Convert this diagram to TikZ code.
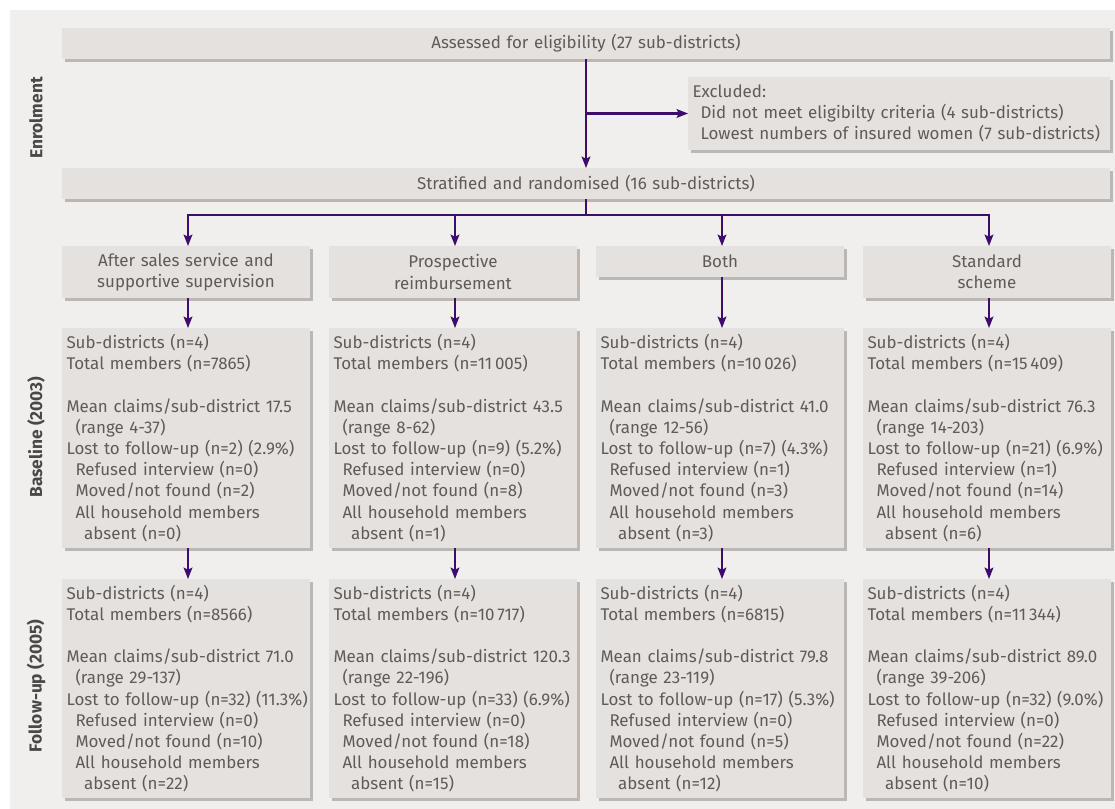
\documentclass[tikz,border=0pt]{standalone}
\usepackage{fontspec}
\setmainfont[Numbers=Proportional]{Fira Sans}
\usetikzlibrary{arrows.meta,shadows}
\definecolor{bgc}{HTML}{F0EFED}
\definecolor{boxc}{HTML}{E5E1DE}
\definecolor{shc}{HTML}{BDB7B4}
\definecolor{txc}{HTML}{5F5B59}
\definecolor{arc}{HTML}{3E0C6E}
\definecolor{lbc}{HTML}{4B4745}
\tikzset{
  box/.style={fill=boxc, draw=none, outer sep=0pt, inner xsep=3.375pt, inner ysep=0pt,
    anchor=north west, text=txc, font=\fontsize{12.7}{15.9}\selectfont,
    drop shadow={shadow xshift=2.6pt, shadow yshift=-2.4pt, fill=shc, opacity=1}},
  databox/.style={box, text width=179.25pt, align=left},
  headbox/.style={box, text width=179.25pt, align=center},
  widebox/.style={box, text width=779.25pt, align=center, minimum height=23.25pt},
  lbl/.style={text=lbc, font=\fontsize{13}{15}\selectfont\bfseries, rotate=90},
  arr/.style={draw=arc, line width=1.6pt, -{Stealth[length=8.5pt,width=6.5pt,inset=1.5pt]}},
  conn/.style={draw=arc, line width=1.6pt}
}
\newcommand{\ia}{\hspace*{6.75pt}}
\newcommand{\ib}{\hspace*{13.2pt}}
\newcommand{\oneline}[1]{\mbox{#1}}
\begin{document}
\begin{tikzpicture}[x=0.75pt,y=-0.75pt]
\useasboundingbox (0,0) rectangle (1115,809);
\fill[bgc] (10,10) rectangle (1115,809);

% labels
\node[lbl] (lenr) at (36,118) {Enrolment};
\node[lbl] (lbas) at (36,437) {Baseline (2003)};
\node[lbl] (lfol) at (36,686) {Follow-up (2005)};

% enrolment
\node[widebox] (assess) at (62,28) {Assessed for eligibility (27 sub-districts)};
\node[box, text width=309.75pt, align=left, minimum height=54.75pt] (excl) at (688,77)
  {Excluded:\\\hspace*{6pt}Did not meet eligibilty criteria (4 sub-districts)\\\hspace*{6pt}\oneline{Lowest numbers of insured women (7 sub-districts)}};
\node[widebox] (strat) at (62,168) {Stratified and randomised (16 sub-districts)};

% headings
\node[headbox, minimum height=39pt] (h1) at (62,246) {After sales service and\\supportive supervision};
\node[headbox, minimum height=39pt] (h2) at (329,246) {Prospective\\reimbursement};
\node[headbox, minimum height=23.25pt] (h3) at (596,246) {Both};
\node[headbox, minimum height=39pt] (h4) at (863,246) {Standard\\scheme};

% baseline
\node[databox, minimum height=165pt] (b1) at (62,328) {Sub-districts (n=4)\\Total members (n=7865)\\[15.9pt]\oneline{Mean claims/sub-district 17.5}\\\ia(range 4-37)\\\oneline{Lost to follow-up (n=2) (2.9\%)}\\\ia Refused interview (n=0)\\\ia Moved/not found (n=2)\\\ia All household members\\\ib absent (n=0)};
\node[databox, minimum height=165pt] (b2) at (329,328) {Sub-districts (n=4)\\Total members (n=11\,005)\\[15.9pt]\oneline{Mean claims/sub-district 43.5}\\\ia(range 8-62)\\\oneline{Lost to follow-up (n=9) (5.2\%)}\\\ia Refused interview (n=0)\\\ia Moved/not found (n=8)\\\ia All household members\\\ib absent (n=1)};
\node[databox, minimum height=165pt] (b3) at (596,328) {Sub-districts (n=4)\\Total members (n=10\,026)\\[15.9pt]\oneline{Mean claims/sub-district 41.0}\\\ia(range 12-56)\\\oneline{Lost to follow-up (n=7) (4.3\%)}\\\ia Refused interview (n=1)\\\ia Moved/not found (n=3)\\\ia All household members\\\ib absent (n=3)};
\node[databox, minimum height=165pt] (b4) at (863,328) {Sub-districts (n=4)\\Total members (n=15\,409)\\[15.9pt]\oneline{Mean claims/sub-district 76.3}\\\ia(range 14-203)\\\oneline{Lost to follow-up (n=21) (6.9\%)}\\\ia Refused interview (n=1)\\\ia Moved/not found (n=14)\\\ia All household members\\\ib absent (n=6)};

% follow-up
\node[databox, minimum height=164.25pt] (f1) at (62,579) {Sub-districts (n=4)\\Total members (n=8566)\\[15.9pt]\oneline{Mean claims/sub-district 71.0}\\\ia(range 29-137)\\\oneline{Lost to follow-up (n=32) (11.3\%)}\\\ia Refused interview (n=0)\\\ia Moved/not found (n=10)\\\ia All household members\\\ib absent (n=22)};
\node[databox, minimum height=164.25pt] (f2) at (329,579) {Sub-districts (n=4)\\Total members (n=10\,717)\\[15.9pt]\oneline{Mean claims/sub-district 120.3}\\\ia(range 22-196)\\\oneline{Lost to follow-up (n=33) (6.9\%)}\\\ia Refused interview (n=0)\\\ia Moved/not found (n=18)\\\ia All household members\\\ib absent (n=15)};
\node[databox, minimum height=164.25pt] (f3) at (596,579) {Sub-districts (n=4)\\Total members (n=6815)\\[15.9pt]\oneline{Mean claims/sub-district 79.8}\\\ia(range 23-119)\\\oneline{Lost to follow-up (n=17) (5.3\%)}\\\ia Refused interview (n=0)\\\ia Moved/not found (n=5)\\\ia All household members\\\ib absent (n=12)};
\node[databox, minimum height=164.25pt] (f4) at (863,579) {Sub-districts (n=4)\\Total members (n=11\,344)\\[15.9pt]\oneline{Mean claims/sub-district 89.0}\\\ia(range 39-206)\\\oneline{Lost to follow-up (n=32) (9.0\%)}\\\ia Refused interview (n=0)\\\ia Moved/not found (n=22)\\\ia All household members\\\ib absent (n=10)};

% connector coordinates
\coordinate (mx) at (586,0);
\coordinate (br) at (586,215);
\coordinate (a1) at (188,0);
\coordinate (a2) at (455,0);
\coordinate (a3) at (722,0);
\coordinate (a4) at (989,0);

\draw[arr] (assess.south -| mx) -- (strat.north -| mx);
\draw[arr] (excl.west -| mx) -- (excl.west);
\draw[conn] (strat.south -| mx) -- (br);
\draw[arr] (br) -| (h1.north -| a1);
\draw[arr] (br) -| (h4.north -| a4);
\draw[arr] (a2 |- br) -- (h2.north -| a2);
\draw[arr] (a3 |- br) -- (h3.north -| a3);

\draw[arr] (h1.south -| a1) -- (b1.north -| a1);
\draw[arr] (h2.south -| a2) -- (b2.north -| a2);
\draw[arr] (h3.south -| a3) -- (b3.north -| a3);
\draw[arr] (h4.south -| a4) -- (b4.north -| a4);

\draw[arr] (b1.south -| a1) -- (f1.north -| a1);
\draw[arr] (b2.south -| a2) -- (f2.north -| a2);
\draw[arr] (b3.south -| a3) -- (f3.north -| a3);
\draw[arr] (b4.south -| a4) -- (f4.north -| a4);
\end{tikzpicture}
\end{document}
